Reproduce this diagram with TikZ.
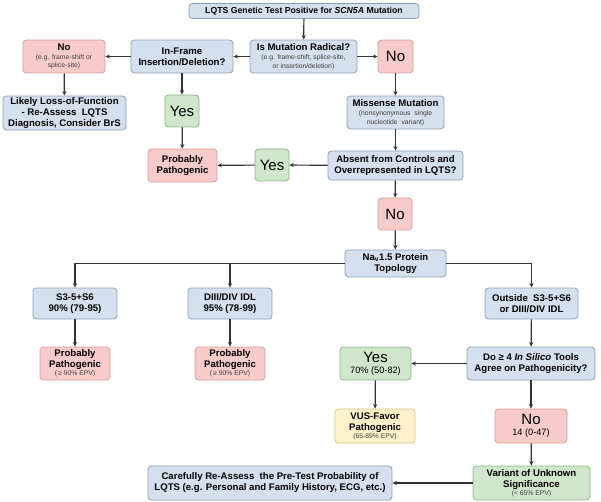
\documentclass[tikz,border=0pt]{standalone}
\usepackage{fontspec}
\setmainfont{Liberation Sans}
\usetikzlibrary{arrows.meta,positioning}
\definecolor{bluefill}{HTML}{D5E0EE}
\definecolor{bluedraw}{HTML}{8E9FB6}
\definecolor{pinkfill}{HTML}{F8CBCB}
\definecolor{pinkdraw}{HTML}{D99C9C}
\definecolor{greenfill}{HTML}{CFE6CB}
\definecolor{greendraw}{HTML}{8DB889}
\definecolor{yellowfill}{HTML}{FFF1C9}
\definecolor{yellowdraw}{HTML}{D8C183}
\definecolor{linegray}{HTML}{333333}
\newcommand{\smalltxt}[1]{{\normalfont\fontsize{6.8}{7.6}\selectfont\color{black!75} #1}}
\newcommand{\midtxt}[1]{{\normalfont\fontsize{9.2}{10}\selectfont #1}}

\begin{document}
\begin{tikzpicture}[x=1pt, y=-1pt,
    box/.style={rounded corners=3.5pt, line width=0.8pt, align=center, inner sep=0.5pt,
      font=\bfseries\fontsize{9.6}{11}\selectfont},
    bluebox/.style={box, draw=bluedraw, fill=bluefill},
    pinkbox/.style={box, draw=pinkdraw, fill=pinkfill},
    greenbox/.style={box, draw=greendraw, fill=greenfill},
    yellowbox/.style={box, draw=yellowdraw, fill=yellowfill},
    big/.style={font=\fontsize{15}{15}\selectfont},
    sz/.style 2 args={minimum width=#1pt, minimum height=#2pt},
    arr/.style={-{Stealth[length=4.5pt,width=4pt]}, line width=1.2pt, draw=linegray}
]
\useasboundingbox (0,0) rectangle (601,502);

\node[bluebox, sz={230}{15}, font=\bfseries\fontsize{8.7}{10}\selectfont] (test) at (304,11) {LQTS Genetic Test Positive for \textit{SCN5A} Mutation};
\node[bluebox, sz={107}{33}] (radical) at (303.5,56.5) {Is Mutation Radical?\\[-2pt]\smalltxt{(e.g. frame-shift, splice-site,}\\[-2.5pt]\smalltxt{or insertion/deletion)}};
\node[pinkbox, big, sz={35}{33}] (noR) at (395.5,56.5) {No};
\node[bluebox, sz={102}{33}] (inframe) at (182,56.5) {In-Frame\\Insertion/Deletion?};
\node[pinkbox, sz={82}{33}] (noL) at (64,56.5) {No\\[-2pt]\smalltxt{(e.g. frame-shift or}\\[-2.5pt]\smalltxt{splice-site)}};
\node[bluebox, sz={123}{34}] (lof) at (64.5,113) {Likely Loss-of-Function\\- Re-Assess\ \ LQTS\\Diagnosis, Consider BrS};
\node[greenbox, big, sz={34}{32}] (yesA) at (182,111) {Yes};
\node[pinkbox, sz={69}{33}] (probA) at (182.5,165.5) {Probably\\Pathogenic};
\node[greenbox, big, sz={34}{32}] (yesB) at (272,165) {Yes};
\node[bluebox, sz={97}{33}] (missense) at (395.5,112.5) {Missense Mutation\\[-2pt]\smalltxt{(nonsynonymous\ \ single}\\[-2.5pt]\smalltxt{nucleotide\ \ variant)}};
\node[bluebox, sz={135}{29}] (absent) at (395.5,165.5) {Absent from Controls and\\Overrepresented in LQTS?};
\node[pinkbox, big, sz={34}{32}] (noB) at (395,214) {No};
\node[bluebox, sz={101}{27}] (nav) at (395.5,263.5) {Na\textsubscript{v}1.5 Protein\\Topology};

\node[bluebox, sz={84}{31}] (seg) at (75,303.5) {S3-5+S6\\90\% (79-95)};
\node[bluebox, sz={84}{31}] (idl) at (230,303.5) {DIII/DIV IDL\\95\% (78-99)};
\node[bluebox, sz={93}{31}] (outside) at (531.5,303.5) {Outside\ \ S3-5+S6\\or DIII/DIV IDL};
\node[pinkbox, sz={70}{33}] (probB) at (75,363.5) {Probably\\Pathogenic\\[-3pt]\smalltxt{(\,≥ 90\% EPV)}};
\node[pinkbox, sz={70}{33}] (probC) at (230,363.5) {Probably\\Pathogenic\\[-3pt]\smalltxt{(\,≥ 90\% EPV)}};
\node[bluebox, sz={128}{33}] (silico) at (531,363.5) {Do ≥ 4 \textit{In Silico} Tools\\Agree on Pathogenicity?};
\node[greenbox, sz={71}{33}] (yesC) at (375.5,363.5) {{\normalfont\fontsize{15}{15}\selectfont Yes}\\\midtxt{70\% (50-82)}};
\node[yellowbox, sz={80}{34}] (vus) at (375,426) {VUS-Favor\\Pathogenic\\[-3pt]\smalltxt{(65-89\% EPV)}};
\node[pinkbox, sz={72}{34}] (noC) at (531,426) {{\normalfont\fontsize{15}{15}\selectfont No}\\\midtxt{14 (0-47)}};
\node[greenbox, sz={117}{34}] (vous) at (531.5,483) {Variant of Unknown\\Significance\\[-3pt]\smalltxt{(< 65\% EPV)}};
\node[bluebox, sz={244}{34}] (careful) at (270,483) {Carefully Re-Assess\ \ the Pre-Test Probability of\\LQTS (e.g. Personal and Family History, ECG, etc.)};

\draw[arr] (test) -- (radical);
\draw[arr] (radical) -- (inframe);
\draw[arr] (radical) -- (noR);
\draw[arr] (inframe) -- (noL);
\draw[arr] (noL) -- (lof);
\draw[arr] (inframe) -- (yesA);
\draw[arr] (yesA) -- (probA);
\draw[arr] (noR) -- (missense);
\draw[arr] (missense) -- (absent);
\draw[arr] (absent) -- (yesB);
\draw[arr] (yesB) -- (probA);
\draw[arr] (absent) -- (noB);
\draw[arr] (noB) -- (nav);
\draw[arr] (nav.west) -| (seg.north);
\draw[arr] (idl.north |- nav.west) -- (idl.north);
\draw[arr] (nav.east) -| (outside.north);
\draw[arr] (seg) -- (probB);
\draw[arr] (idl) -- (probC);
\draw[arr] (outside) -- (silico);
\draw[arr] (silico) -- (yesC);
\draw[arr] (yesC) -- (vus);
\draw[arr] (silico) -- (noC);
\draw[arr] (noC) -- (vous);
\draw[arr] (vous) -- (careful);
\end{tikzpicture}
\end{document}
